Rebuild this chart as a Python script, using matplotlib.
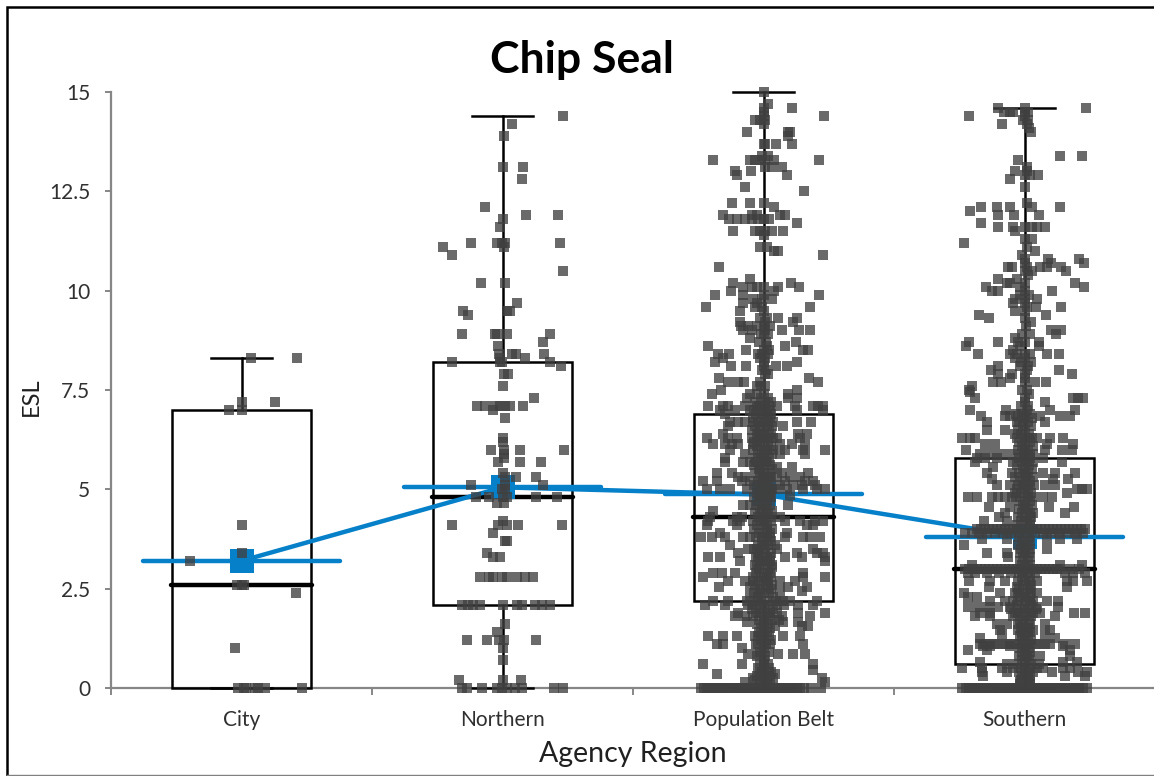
import matplotlib
matplotlib.use("Agg")
import matplotlib.pyplot as plt
from matplotlib.patches import Rectangle
from matplotlib.lines import Line2D

plt.rcParams['font.family'] = ['Lato', 'DejaVu Sans']

categories = ['City', 'Northern', 'Population Belt', 'Southern']
box_q1 = [0.0, 2.1, 2.2, 0.6]
box_median = [2.6, 4.8, 4.3, 3.0]
box_q3 = [7.0, 8.2, 6.9, 5.8]
whisker_low = [0.0, 0.0, 0.0, 0.0]
whisker_high = [8.3, 14.4, 15.0, 14.6]
means = [3.2, 5.05, 4.87, 3.8]

# (ESL, horizontal jitter of each point at that ESL, in pixels of the original chart)
city_rows = [
    (8.3, [9, 55]), (7.2, [0, 33]), (7.0, [-13, 0]), (4.1, [0]), (3.4, [0]), (3.2, [-52]),
    (2.6, [-5, 0, 2]), (2.4, [54]), (1.0, [-7]), (0.0, [-4, 2, 4, 13, 16, 23, 60]),
]
north_rows = [
    (14.4, [60]), (14.2, [9]), (13.9, [1]), (13.1, [0, 20]), (12.8, [19]), (12.1, [-18]),
    (11.9, [23, 55]), (11.8, [0]), (11.6, [-3]), (11.2, [-32, -6, -1, 2, 57]), (11.1, [-60, 1]),
    (10.9, [-51]), (10.5, [60]), (10.2, [-22, 2]), (9.7, [14]), (9.5, [-40, 4, 7]), (9.4, [-35]),
    (8.9, [-41, -8, -6, 4, 47]), (8.7, [40]), (8.6, [-5]), (8.4, [-4, 9, 13, 41]), (8.3, [22, -3]),
    (8.2, [-51, -3, -1, 47]), (8.1, [58]), (7.9, [1, 5]), (7.6, [0]), (7.3, [31]),
    (7.1, [-26, -18, -8, -3, 2, 7, 20]), (7.0, [-10]), (6.8, [2]), (6.3, [0]), (6.2, [0]),
    (6.0, [-12, 1, 17, 61]), (5.9, [1]), (5.8, [1]), (5.7, [-5, 17, 38]), (5.4, [0]),
    (5.3, [13, 33, 2]), (5.1, [-31, 40, 2]), (5.0, [2, -1]), (4.8, [-27, -14, 0, 4, 33, 54]),
    (4.65, [-6, 1]), (4.2, [0]), (4.1, [-51, -5, 4, 15, 59]), (3.9, [-10]), (3.7, [2, 4]),
    (3.4, [-16]), (3.3, [-10, -3]), (2.8, [-23, -14, -10, -1, 4, 14, 22, 30]),
    (2.1, [-41, -35, -30, -23, 0, 14, 19, 32, 39, 47]), (1.6, [2]), (1.4, [-6]),
    (1.2, [-36, -16, -4, 1, 33]), (1.0, [0]), (0.7, [0]), (0.2, [-44, 0, 18]),
    (0.0, [-41, -36, -21, -6, -1, 4, 12, 19, 51, 60]),
]
pop_rows = [
    (15.0, [0]), (14.7, [4]), (14.6, [28, 0]), (14.5, [0]), (14.4, [60, 0]), (14.3, [-9, -4, 1]),
    (14.2, [0]), (14.0, [-17, 24, 26]), (13.9, [24]), (13.7, [0, 1, 12, 28]), (13.4, [-2, 4]),
    (13.3, [-51, -14, -9, -4, 1, 10, 55]), (13.1, [1, 8, 18]), (13.0, [-29, -13]), (12.9, [-27, 23]),
    (12.6, [-19]), (12.5, [40]), (12.2, [-32, -14, 0]), (12.1, [10]), (11.9, [-41, -12, -7, 21, 16]),
    (11.8, [-35, -27, -19, -12, -6, 0, 5]), (11.7, [33]), (11.5, [-31, -9, -4, 8, 19, 1]), (11.4, [0]),
    (11.1, [-4, 3]), (11.0, [10, 14]), (10.9, [59]), (10.6, [-45]), (10.3, [-14]), (10.2, [-31, 27]),
    (10.1, [-21, -12, -7, 0, 14, 35]), (10.0, [-33, 10]), (9.9, [-49, -21, 55, 0]), (9.8, [-11, -2, 8]),
    (9.7, [-21, -7]), (9.6, [-58, -9, -2, 46]), (9.5, [-24, 0]), (9.3, [-4, 3, 14, 33]), (9.2, [-24, 29, 1]),
    (9.1, [-23, -16, -7, 0, 6]), (9.0, [-21, -12, 1, 18, 35, 46]), (8.9, [0]), (8.8, [-14]), (8.7, [32]),
    (8.6, [-56, 21]), (8.5, [-18, 0, 5, 39, 44]), (8.4, [-46, -35, -6]), (8.3, [-41, 1]), (8.2, [-49, 33, 0]),
    (8.1, [-33, -18, 0, 12, 23]), (8.0, [-2]), (7.9, [1, 4]), (7.8, [-45, 45]), (7.7, [-36, -26, -20, -4, 54]),
    (7.6, [-7, 1]), (7.5, [-43, 33]), (7.4, [-52, -14, -7, 0, 24]), (7.3, [-17, 24, 33]),
    (7.1, [-56, -41, -36, -19, -7, 0, 13, 31, 49, 54, 59]), (7.0, [-44, -29, -14, -4, 6, 33, 59]),
    (6.9, [-39, -2, 3]), (6.7, [-34, -26, -19, -11, 0, 9, 33, 48]), (6.6, [-36, 19, -4, 3]),
    (6.4, [-41, -7, 0, 34, 43]), (6.3, [-57, -36, -27, -12, -4, 4, 13, 36]),
    (6.15, [-51, -39, -32, -26, -11, 0, 16, 28, 41]), (6.0, [-34, -2, 9, 21, 39, 61]),
    (5.9, [-19, 0, 16, 41]), (5.8, [-39, -9, 0]), (5.7, [-39, -21, -14, 3]), (5.55, [13, 28, -4]),
    (5.4, [-32, 0, 18, 44, -47]), (5.3, [-26, -19, -4, 6, 13, 26, 36]),
    (5.2, [-61, -47, -22, -14, 0, 21, 41, 49]), (5.1, [0, 16, 29, 38, 51]),
    (5.0, [-57, -44, -34, -17, -7, 3, 13, 23, 39, 53, 61]), (4.85, [-4, 6, 26]), (4.6, [-21, -14, 0, 24]),
    (4.45, [-51, -2, 8]), (4.3, [-54, -27, -22, 0, 16]), (4.2, [-56, -31, -24, -11, 0, 21, 36, 51, 59]),
    (4.1, [-57, -27, 3, 43, 49]), (3.9, [-44, 0, 23]), (3.8, [-62, -52, -39, -21, -14, -2, 6, 21, 39, 46, 56]),
    (3.6, [-34, 0, 11]), (3.5, [-16, -7, 13, 49]), (3.4, [-26, 0, 33, 53, 59]),
    (3.3, [-56, -44, -6, 6, 21, 38, 61]), (3.2, [-24, 0, 61]), (3.05, [-7, 8]), (2.9, [-51, -42, -29, 0, 39]),
    (2.8, [-61, 39, 61, 3]), (2.7, [-36, -19, -11, 0, 16, 31]), (2.55, [-45, -14, 4, 24, 43]),
    (2.45, [-4, 16, 38]), (2.2, [-51, -36, -17, -7, 3, 19, 26, 53]), (2.1, [-59, -39, -11, 0, 13, 34, 49]),
    (1.9, [-26, -4, 6, 34, 61]), (1.8, [-29, -19, 0, 18, 46]), (1.65, [-17, 0, 19, 34]), (1.55, [0, 38, 44, 11]),
    (1.3, [-56, -41, -27, -6, 0, 19, 36]), (1.1, [-47, -41, -6, 6, 39]), (1.0, [-22, 0]),
    (0.85, [-16, -6, 14, 29, 41]), (0.7, [0]), (0.6, [-61, -22, 0, 49]), (0.45, [49, 0]), (0.35, [-47, -4, 11]),
    (0.25, [-11, 0, 9, 58]), (0.15, [-19, 0, 61]),
    (0.0, [-63, -60, -57, -54, -51, -48, -45, -42, -39, -36, -33, -30, -27, -24, -21, -18, -15, -12, -9, -6,
           -3, 0, 3, 6, 9, 12, 15, 18, 21, 24, 27, 30, 33, 36, 40, 48, 57]),
]
pop_core_rows = [
    (8.9, [-3, 4]), (8.7, [-5, 2]), (8.6, [3]), (8.4, [-2, 4]), (8.3, [-4]), (8.0, [2]), (7.6, [-3]), (7.3, [-3, 4]),
    (7.2, [-9, 1, 7]), (7.1, [-5, 5]), (7.0, [-10, 2]), (6.9, [-8, 7]), (6.8, [-11, -2, 6]), (6.7, [-6, 4]),
    (6.6, [-9, 8]), (6.5, [-12, -3, 5]), (6.4, [-5, 7]), (6.3, [-1, 9]), (6.2, [-10, -4, 4]), (6.1, [-7, 7]),
    (6.0, [-11, 3]), (5.9, [-6, 8]), (5.8, [-3, 5]), (5.7, [-8, 2]), (5.6, [-10, 0, 6]), (5.5, [-5, 8]),
    (5.4, [-9, 3]), (5.3, [-1, 7]), (5.2, [-6, 4]), (5.1, [-10, -3, 6]), (5.0, [0, 8]), (4.9, [-7, 1, 5]),
    (4.8, [-10, -3, 7]), (4.7, [-5, 3]), (4.6, [-8, 6]), (4.5, [-4, 2]), (4.4, [-9, 4]), (4.3, [-6, 6]),
    (4.2, [-3, 7]), (4.1, [-7, 0]), (4.0, [-10, 3, 8]), (3.9, [-5, 6]), (3.8, [-8, 3]), (3.7, [-2, 7]),
    (3.6, [-6, 4]), (3.5, [-10, 1]), (3.4, [-5, 7]), (3.3, [-8, 3]), (3.2, [-4, 6]), (3.1, [-9, 1, 8]),
    (3.0, [-5, 4]), (2.9, [-8, 6]), (2.8, [-3, 7, -11]), (2.7, [-6, 4]), (2.6, [-9, 2, 8]), (2.5, [-4, 7]),
    (2.4, [-10, 0, 5]), (2.3, [-6, 9, -14]), (2.2, [-3, 12, 16]), (2.1, [-16, -6, 6, 20]), (2.0, [-12, -2, 9]),
    (1.9, [-8, 3, 13]), (1.8, [-11, 6]), (1.7, [-5, 8, 15]), (1.6, [-7, 4]), (1.5, [-3, 6]), (1.4, [-5, 3]),
    (1.3, [-9, 5]), (1.2, [-3, 7]), (1.1, [-8, 2]), (0.9, [-4, 5]), (0.8, [-7, 1]), (0.6, [-4, 4]), (0.5, [-6, 5]),
    (0.4, [-2, 7]), (0.3, [-7, 4]), (0.2, [-9, 6]), (0.1, [-4, 3]),
]
south_rows = [
    (14.6, [-27, 61, 0]), (14.5, [-21, -15, -12, 0, 3]), (14.4, [-56, 0]), (14.3, [-2, 3]), (14.2, [-23, 2]),
    (14.1, [4]), (14.0, [6]), (13.4, [35, 57]), (13.3, [-7]), (13.1, [2]), (13.0, [-10, 2]), (12.9, [0, 13, 5]),
    (12.8, [-15]), (12.6, [0]), (12.2, [2]), (12.1, [-44, -28, -15, 7, 35]), (12.0, [-55]), (11.9, [-27, -11, 14]),
    (11.7, [-44]), (11.6, [-27, -12, 0, 7, 12, 20]), (11.5, [-10]), (11.3, [0, 7]), (11.2, [-61]), (11.1, [2]),
    (11.0, [10]), (10.8, [0, 23, 55]), (10.7, [0, 26, 59]), (10.6, [-17, -13, 2, 15, 22, 36]), (10.5, [0, 7, 41]),
    (10.3, [-27, -8]), (10.2, [-18, -15, 0, 50]), (10.1, [-39, -5, 59]), (10.0, [-33, -27, 0, 27]),
    (9.8, [-10, 0, 12]), (9.7, [-12, 0]), (9.6, [2, 36, 11]), (9.5, [-10, 0]), (9.4, [-46, 21]), (9.3, [-36, 0]),
    (9.2, [6]), (9.0, [26, 36]), (8.9, [-3, 5, 31]), (8.8, [-10]), (8.7, [-56, -27, -7, 0, 14]), (8.6, [-59, 14, -5]),
    (8.5, [-12]), (8.4, [-47, -15, -8, 0, 5, 22, 34]), (8.3, [-10, 0]), (8.1, [-27, -5, 3]), (8.0, [-34, 2, 34]),
    (7.9, [-27, -13, 47, 0]), (7.8, [-15, 0]), (7.7, [-32, -24, 0, 10, 21]), (7.6, [-53]), (7.5, [-56]),
    (7.45, [-55]), (7.3, [-50, 48, 53, 58, 0]), (7.2, [20, 0]), (7.0, [-55, -19, 2, 25, 50]),
    (6.85, [-44, -20, -15, -7, 0, 15, 35, 45]), (6.7, [20, -8, -38]), (6.5, [-38, -20, -7, 0]),
    (6.3, [-62, -55, -50, -8, 0, 12, 25, 38]), (6.15, [-40, -30, 0, 22, 48]), (6.0, [-59, 0, 20, 37, 47]),
    (5.9, [-45, -35, -25, -15, -5, 5]), (5.8, [-48, -40, -28, 0, 18]), (5.7, [-50, 37, -12, 8]), (5.55, [-32, 0]),
    (5.4, [-38, -13, 18, 30, 50, 0]), (5.25, [-33, 28, 43, 0]), (5.1, [-28, -15, -7, 5, 20, 30]),
    (5.0, [52, 62, 57, 0]), (4.9, [42, -10]), (4.8, [-57, -48, -33, -27, -20, -13, 0, 18, 27]),
    (4.55, [-36, -15, 0, 24, 49]), (4.4, [-20, 8, 40]), (4.3, [-26, 0]), (4.2, [-41, -18, 5]),
    (4.0, [-48, -44, -40, -36, -32, -28, -24, -20, -16, -12, -8, -4, 0, 4, 8, 12, 16, 20, 24, 28, 32, 36, 40, 44,
          48, 52, 56, 60]),
    (3.9, [-60, -53, -46, -38, -30, -22, -14, -6, 2, 10, 18, 26, 34, 42, 50, 58]),
    (3.75, [-43, -18, 22, 35, 52]), (3.6, [-61, 0, -7]), (3.5, [22, 0]), (3.4, [-38, -18, 0]), (3.3, [-17]),
    (3.1, [-53, 0, 35, 57]),
    (3.0, [-60, -56, -52, -48, -44, -40, -36, -32, -28, -24, -20, -16, -12, -8, -4, 0, 4, 8, 12, 16, 20, 24, 28,
          32, 35, 45, 55]),
    (2.9, [-57, -50, -38, -26, -14, -2, 10, 40, 48, 60]), (2.7, [-56, -35, -20, 0, 12, 42, 62, 48]),
    (2.55, [-36, -8, 5, 42]), (2.4, [-61, -25, -7, 12]), (2.3, [-57, -48, 0]), (2.2, [-35, -20, -7, 5, 22, 33]),
    (2.05, [-57, -47, -37, -27, -15, 0, 12, 33]), (1.9, [-45, -35, -10, 5, 15, 49, 60]), (1.8, [-50, -35, 0, 30]),
    (1.6, [-28, -18, -7, 20]), (1.45, [-25, -7, 8, 25]), (1.35, [-23, 0, 20]), (1.25, [-45, 30]),
    (1.1, [-45, -40, -35, -30, -25, -20, -15, -10, -5, 0, 5, 10, 15, 20, 25, 40, 50]), (1.05, [-42, -35, -15, 38]),
    (0.95, [-57, -38, 0, 45]), (0.8, [15, 45, 5]), (0.65, [-45, 38, 52, 0]),
    (0.5, [-62, -43, -23, -12, 0, 12, 18, 38, 45]), (0.4, [-43, -18, 27, 53, 62, 0, 8]), (0.3, [-42, 0, 40, 60]),
    (0.15, [-5, 5]),
    (0.0, [-62, -59, -56, -53, -50, -47, -44, -41, -38, -35, -32, -29, -26, -23, -20, -17, -14, -11, -8, -5, -2,
          1, 4, 7, 10, 13, 16, 19, 22, 25, 28, 31, 34, 37, 40, 43, 46, 49, 52, 55, 58, 62]),
]
south_core_rows = [
    (10.9, [-3]), (10.4, [3]), (9.9, [-5, 4]), (9.1, [1]), (8.2, [-4, 6]), (7.5, [-3, 2]), (7.4, [4]), (7.1, [-4, 3]),
    (6.9, [-3, 5, -9]), (6.8, [-1, 7]), (6.7, [-6, 3]), (6.6, [-2, 6]), (6.4, [-4, 4, -10]), (6.3, [2, 7]),
    (6.2, [-6, 5]), (6.1, [-3, 8]), (6.0, [-7, 3]), (5.9, [-1, 8]), (5.8, [-6, 5]), (5.7, [-3, 2]), (5.6, [-8, 4]),
    (5.5, [-2, 7]), (5.4, [-6, 3]), (5.3, [-10, 1, 8]), (5.2, [-5, 5]), (5.1, [-2, 9]), (5.0, [-8, 3]), (4.9, [-4, 6]),
    (4.8, [-9, 3, 8]), (4.7, [-5, 5]), (4.6, [-2, 7]), (4.5, [-6, 3]), (4.4, [-3, 5]), (4.3, [-7, 6]), (4.2, [-4, 2]),
    (4.1, [-8, 5]), (3.8, [-6, 4]), (3.7, [-3, 5]), (3.6, [3]), (3.5, [-4, 5]), (3.4, [-5, 4]), (3.3, [-2, 5]),
    (3.2, [-5, 3]), (3.1, [-3, 5]), (2.9, [-6, 3]), (2.8, [-3, 5]), (2.7, [-7, 4]), (2.6, [-2, 6]), (2.5, [-6, 3]),
    (2.4, [-10, 0, 6]), (2.3, [-5, 5]), (2.2, [-12, 1, 8]), (2.1, [-8, 6]), (2.0, [-14, -4, 3, 11]), (1.9, [-7, 8]),
    (1.8, [-12, -3, 6]), (1.7, [-5, 4]), (1.6, [-2, 5]), (1.5, [-4, 3]), (1.4, [-3, 5]), (1.3, [-5, 3]), (1.2, [-3, 6]),
    (1.0, [-5, 4]), (0.9, [-3, 5]), (0.8, [-6, 2]), (0.7, [-3, 4]), (0.6, [-8, 6, 14, -18]), (0.5, [-4, 5]),
    (0.4, [-6, 3]), (0.3, [-3, 5]), (0.2, [-4, 3]), (0.1, [-5, 2, 5]),
]

PX_W, PX_H = 1154, 776
PX_PER_CAT = 261.0
BOX_HALF = 0.265
CAP_HALF = 0.115
MEAN_HALF = 0.377

fig = plt.figure(figsize=(PX_W / 100, PX_H / 100), dpi=100, facecolor='white')
ax = fig.add_axes([111 / PX_W, 1 - 688 / PX_H, (1155 - 111) / PX_W, (688 - 92) / PX_H])
ax.set_xlim(0.5, 4.5)
ax.set_ylim(0, 15)

INK = '#000000'
BLUE = '#0680c9'
LW_BOX = 1.8
LW_THICK = 3.2
Z_BOX = 2.6
Z_MEAN = 3
for i in range(4):
    c = i + 1
    ax.plot([c, c], [box_q3[i], whisker_high[i]], color=INK, lw=LW_BOX, zorder=Z_BOX, clip_on=False)
    ax.plot([c, c], [whisker_low[i], box_q1[i]], color=INK, lw=LW_BOX, zorder=Z_BOX, clip_on=False)
    ax.plot([c - CAP_HALF, c + CAP_HALF], [whisker_high[i]] * 2, color=INK, lw=LW_BOX, zorder=Z_BOX, clip_on=False)
    ax.plot([c - CAP_HALF, c + CAP_HALF], [whisker_low[i]] * 2, color=INK, lw=LW_BOX, zorder=Z_BOX, clip_on=False)
    ax.add_patch(Rectangle((c - BOX_HALF, box_q1[i]), 2 * BOX_HALF, box_q3[i] - box_q1[i], fill=False,
                           ec=INK, lw=LW_BOX, zorder=Z_BOX, clip_on=False))
    ax.plot([c - BOX_HALF - 0.005, c + BOX_HALF + 0.005], [box_median[i]] * 2, color=INK, lw=LW_THICK,
            solid_capstyle='round', zorder=Z_BOX)
    ax.plot([c - MEAN_HALF, c + MEAN_HALF], [means[i]] * 2, color=BLUE, lw=LW_THICK,
            solid_capstyle='round', zorder=Z_MEAN)
ax.plot([1, 2, 3, 4], means, color=BLUE, lw=LW_THICK, zorder=Z_MEAN)
ax.scatter([1, 2, 3, 4], means, marker='s', s=297, color=BLUE, linewidths=0, zorder=Z_MEAN)

groups = [(1, city_rows), (2, north_rows), (3, pop_rows), (3, pop_core_rows), (4, south_rows), (4, south_core_rows)]
for center, rows in groups:
    xs, ys = [], []
    for esl, offsets in rows:
        for off in offsets:
            xs.append(center + off / PX_PER_CAT)
            ys.append(esl)
    ax.scatter(xs, ys, marker='s', s=52, color='#404040', alpha=0.78, linewidths=0, zorder=4, clip_on=False)

for side in ('top', 'right'):
    ax.spines[side].set_visible(False)
for side in ('left', 'bottom'):
    ax.spines[side].set_color('#868686')
    ax.spines[side].set_linewidth(1.6)
ax.set_yticks([0, 2.5, 5, 7.5, 10, 12.5, 15])
ax.set_yticklabels(['0', '2.5', '5', '7.5', '10', '12.5', '15'])
ax.set_xticks([0.5, 1.5, 2.5, 3.5, 4.5])
ax.set_xticklabels([])
ax.set_xticks([1, 2, 3, 4], minor=True)
ax.set_xticklabels(categories, minor=True)
ax.tick_params(axis='x', which='major', length=5, width=1.4, color='#868686')
ax.tick_params(axis='x', which='minor', length=0, pad=16, labelsize=15, labelcolor='#303030')
ax.tick_params(axis='y', length=4, width=1.4, color='#868686', labelsize=15, labelcolor='#303030', pad=11)

fig.text(582 / PX_W, 1 - 60 / PX_H, 'Chip Seal', ha='center', va='center', fontsize=32, fontweight='bold', color='black')
fig.text(633 / PX_W, 1 - 754 / PX_H, 'Agency Region', ha='center', va='center', fontsize=20.5, color='#202020')
fig.text(31 / PX_W, 1 - 397 / PX_H, 'ESL', ha='center', va='center', rotation=90, fontsize=17, color='#202020')

fig.add_artist(Rectangle((6.5 / PX_W, -0.01), 1.1, 1 - 6.5 / PX_H + 0.01, transform=fig.transFigure, fill=False,
                         ec='black', lw=1.8))
fig.add_artist(Line2D([6.5 / PX_W, 1], [1 - 775 / PX_H] * 2, transform=fig.transFigure, color='#808080', lw=1.0))
fig.savefig('out.png', dpi=100)
